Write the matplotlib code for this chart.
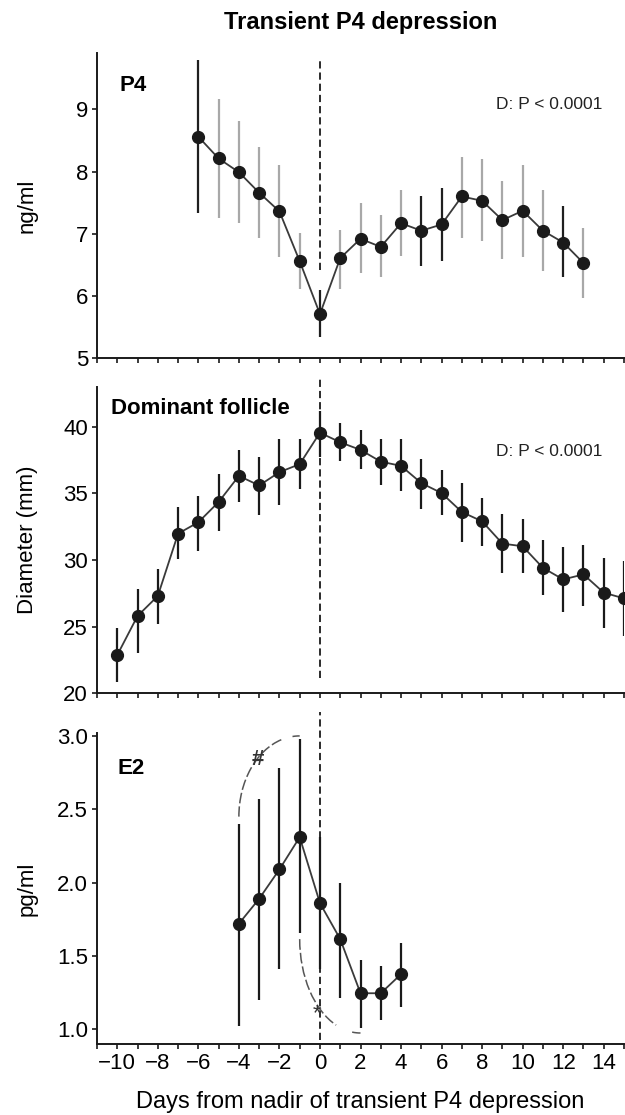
import matplotlib
matplotlib.use("Agg")
import matplotlib.pyplot as plt
import numpy as np
from matplotlib.patches import Arc

plt.rcParams['font.family'] = ['Liberation Sans', 'DejaVu Sans']

# P4 (ng/ml)
p4_days = np.arange(-6, 14)
p4_mean = [8.56, 8.21, 7.99, 7.66, 7.36, 6.56, 5.71, 6.61, 6.92, 6.79,
           7.17, 7.05, 7.15, 7.60, 7.53, 7.22, 7.37, 7.05, 6.86, 6.53]
p4_hi = [9.79, 9.16, 8.81, 8.40, 8.10, 7.02, 6.09, 7.06, 7.49, 7.30,
         7.70, 7.60, 7.74, 8.24, 8.20, 7.85, 8.10, 7.70, 7.45, 7.10]
p4_lo = [7.33, 7.25, 7.18, 6.93, 6.62, 6.11, 5.35, 6.12, 6.37, 6.30,
         6.64, 6.48, 6.56, 6.94, 6.89, 6.60, 6.62, 6.40, 6.30, 5.97]
p4_dark_days = [-6, 0, 5, 6, 12]

# Dominant follicle diameter (mm)
fol_days = np.arange(-10, 16)
fol_mean = [22.87, 25.80, 27.30, 31.98, 32.83, 34.35, 36.31, 35.59, 36.59, 37.19,
            39.55, 38.83, 38.26, 37.38, 37.06, 35.77, 35.02, 33.60, 32.90, 31.23,
            31.03, 29.41, 28.54, 28.92, 27.55, 27.12]
fol_hi = [24.93, 27.85, 29.34, 33.95, 34.77, 36.44, 38.26, 37.76, 39.05, 39.05,
          41.17, 40.25, 39.75, 39.05, 39.05, 37.58, 36.76, 35.77, 34.65, 33.47,
          33.10, 31.48, 30.98, 31.16, 30.16, 29.96]
fol_lo = [20.87, 23.06, 25.23, 30.04, 30.71, 32.20, 34.32, 33.35, 34.15, 35.32,
          37.76, 37.46, 36.81, 35.64, 35.19, 33.85, 33.35, 31.36, 31.03, 29.04,
          29.04, 27.37, 26.10, 26.55, 24.93, 24.31]

# E2 (pg/ml)
e2_days = np.arange(-4, 5)
e2_mean = [1.72, 1.89, 2.09, 2.31, 1.86, 1.615, 1.246, 1.246, 1.376]
e2_hi = [2.40, 2.57, 2.78, 2.98, 2.31, 2.00, 1.47, 1.43, 1.59]
e2_lo = [1.02, 1.20, 1.41, 1.66, 1.41, 1.216, 1.01, 1.064, 1.155]

W, H = 625, 1115
fig = plt.figure(figsize=(W / 100, H / 100), dpi=100)

left = 97 / W
width = 527 / W
ax1 = fig.add_axes([left, 1 - 358.3 / H, width, 305 / H])
ax2 = fig.add_axes([left, 1 - 693.3 / H, width, 306.6 / H])
ax3 = fig.add_axes([left, 1 - 1044 / H, width, 311 / H])

FS = 16


def series(ax, x, m, lo, hi, colors):
    for xi, l, h, c in zip(x, lo, hi, colors):
        ax.vlines(xi, l, h, color=c, lw=1.6, zorder=2)
    ax.plot(x, m, '-', color='#3a3a3a', lw=1.3, zorder=3)
    ax.plot(x, m, 'o', color='#1a1a1a', ms=8.5, zorder=4)


def style(ax, ylim, yticks):
    ax.set_xlim(-11, 15)
    ax.set_ylim(*ylim)
    ax.set_yticks(yticks)
    ax.set_xticks(np.arange(-10, 16, 2))
    ax.set_xticks(np.arange(-11, 16, 1), minor=True)
    for s in ['top', 'right']:
        ax.spines[s].set_visible(False)
    for s in ['left', 'bottom']:
        ax.spines[s].set_linewidth(1.4)
        ax.spines[s].set_color('#1a1a1a')
    ax.tick_params(which='both', direction='out', length=3.5, width=1.2,
                   labelsize=FS, pad=3, color='#1a1a1a')


p4_colors = ['#1f1f1f' if d in p4_dark_days else '#a8a8a8' for d in p4_days]
series(ax1, p4_days, p4_mean, p4_lo, p4_hi, p4_colors)
series(ax2, fol_days, fol_mean, fol_lo, fol_hi, ['#1a1a1a'] * len(fol_days))
series(ax3, e2_days, e2_mean, e2_lo, e2_hi, ['#1a1a1a'] * len(e2_days))

style(ax1, (5, 9.9), [5, 6, 7, 8, 9])
style(ax2, (20, 43), [20, 25, 30, 35, 40])
style(ax3, (0.9, 3.02), [1.0, 1.5, 2.0, 2.5, 3.0])
ax3.set_yticklabels(['1.0', '1.5', '2.0', '2.5', '3.0'])
ax1.tick_params(axis='x', which='both', labelbottom=False)
ax2.tick_params(axis='x', which='both', labelbottom=False)

# nadir reference lines
dash = dict(color='#1a1a1a', lw=1.3, linestyles=(0, (4, 2.2)), zorder=1, clip_on=False)
ax1.vlines(0, 6.42, 9.79, **dash)
ax2.vlines(0, 21.15, 43.75, **dash)
ax3.vlines(0, 0.93, 3.165, **dash)

ax1.set_ylabel('ng/ml', fontsize=FS)
ax2.set_ylabel('Diameter (mm)', fontsize=FS)
ax3.set_ylabel('pg/ml', fontsize=FS)
for ax in (ax1, ax2, ax3):
    ax.yaxis.set_label_coords(-0.112, 0.5)

ax1.text(-9.9, 9.39, 'P4', fontsize=FS, fontweight='bold', va='center', ha='left')
ax2.text(-10.3, 41.37, 'Dominant follicle', fontsize=FS, fontweight='bold', va='center', ha='left')
ax3.text(-10.0, 2.78, 'E2', fontsize=FS, fontweight='bold', va='center', ha='left')
ax1.text(13.95, 9.07, 'D: P < 0.0001', fontsize=12.5, va='center', ha='right', color='#222222')
ax2.text(13.95, 38.13, 'D: P < 0.0001', fontsize=12.5, va='center', ha='right', color='#222222')

# significance brackets
arc_kw = dict(color='#555555', lw=1.1, linestyle=(0, (7, 2)), zorder=1)
for t1, t2 in [(90, 123), (150, 180)]:
    ax3.add_patch(Arc((-1, 2.45), 6, 1.1, theta1=t1, theta2=t2, **arc_kw))
for t1, t2 in [(180, 206), (237, 270)]:
    ax3.add_patch(Arc((2, 1.615), 6, 1.28, theta1=t1, theta2=t2, **arc_kw))
ax3.text(-3.05, 2.84, '#', fontsize=16, fontweight='bold', ha='center', va='center', color='#333333')
ax3.text(-0.15, 1.11, '*', fontsize=16, ha='center', va='center', color='#333333')

cx = left + width / 2
fig.text(cx, 1 - 23 / H, 'Transient P4 depression', fontsize=FS + 1, fontweight='bold',
         ha='center', va='center')
fig.text(cx, 1 - 1102 / H, 'Days from nadir of transient P4 depression', fontsize=FS + 1,
         ha='center', va='center')

fig.savefig('out.png', dpi=100)
